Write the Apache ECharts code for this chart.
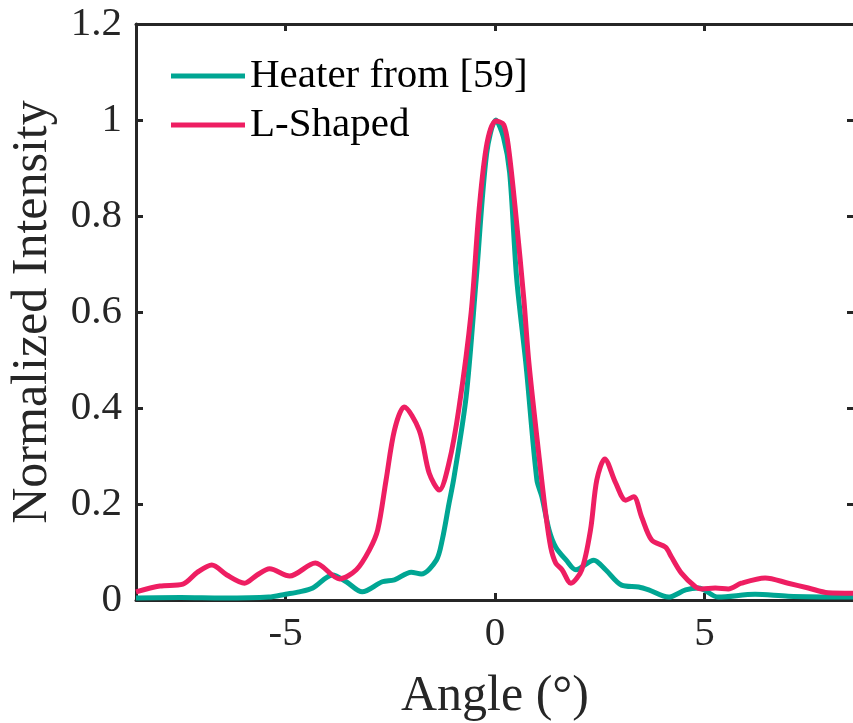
<!DOCTYPE html>
<html>
<head>
<meta charset="utf-8">
<script src="https://cdn.jsdelivr.net/npm/echarts@6/dist/echarts.min.js"></script>
<style>
html,body{margin:0;padding:0;background:#fff;}
#chart{width:853px;height:723px;}
</style>
</head>
<body>
<div id="chart"></div>
<script>
// Heater from [59]
const heaterAngle = [-8.57, -7.5, -6.5, -5.4, -5.0, -4.67, -4.35, -3.88, -3.55, -3.17, -2.69, -2.4, -2.0, -1.76, -1.4, -1.26, -1.1, -0.98, -0.69, -0.45, -0.2, 0.02, 0.2, 0.35, 0.52, 0.74, 1.0, 1.12, 1.29, 1.45, 1.7, 1.93, 2.36, 2.64, 3.02, 3.43, 3.67, 4.14, 4.55, 4.86, 5.33, 6.21, 7.0, 8.57];
const heaterValue = [0.004, 0.005, 0.004, 0.006, 0.012, 0.017, 0.025, 0.052, 0.038, 0.017, 0.038, 0.042, 0.058, 0.054, 0.083, 0.125, 0.2, 0.255, 0.423, 0.667, 0.93, 1.0, 0.965, 0.89, 0.667, 0.49, 0.25, 0.215, 0.146, 0.11, 0.083, 0.063, 0.083, 0.063, 0.031, 0.027, 0.021, 0.006, 0.021, 0.025, 0.006, 0.012, 0.008, 0.006];

// L-Shaped
const lshapeAngle = [-8.57, -8.0, -7.45, -7.1, -6.76, -6.4, -5.98, -5.68, -5.38, -4.9, -4.29, -3.71, -3.31, -3.0, -2.8, -2.6, -2.4, -2.17, -1.81, -1.57, -1.33, -1.1, -0.86, -0.57, -0.38, -0.19, 0.02, 0.21, 0.33, 0.5, 0.69, 0.81, 1.05, 1.21, 1.33, 1.45, 1.6, 1.81, 2.07, 2.28, 2.43, 2.62, 2.88, 3.12, 3.31, 3.5, 3.74, 4.07, 4.21, 4.45, 4.79, 4.93, 5.26, 5.57, 5.88, 6.45, 7.0, 7.48, 7.95, 8.57];
const lshapeValue = [0.017, 0.029, 0.033, 0.058, 0.073, 0.052, 0.035, 0.052, 0.065, 0.05, 0.077, 0.044, 0.063, 0.104, 0.146, 0.25, 0.354, 0.402, 0.354, 0.264, 0.229, 0.285, 0.40, 0.598, 0.8125, 0.952, 0.998, 0.99, 0.9375, 0.80, 0.625, 0.493, 0.30, 0.18, 0.11, 0.077, 0.063, 0.035, 0.063, 0.146, 0.25, 0.294, 0.244, 0.208, 0.215, 0.173, 0.125, 0.11, 0.09, 0.056, 0.027, 0.023, 0.025, 0.023, 0.035, 0.046, 0.035, 0.025, 0.015, 0.014];

const xTicks = [-5, 0, 5];
const seriesNames = ['Heater from [59]', 'L-Shaped'];

const axisColor = '#262626';
const font = 'Liberation Serif, Times New Roman, serif';

function pairs(xs, ys) { return xs.map((x, i) => [x, ys[i]]); }

const chart = echarts.init(document.getElementById('chart'), null, {renderer: 'canvas'});
const baseX = {
  type: 'value', min: -8.57, max: 8.57,
  splitLine: {show: false},
  axisLine: {show: true, onZero: false, lineStyle: {color: axisColor, width: 3}},
  axisTick: {show: true, inside: true, length: 7, customValues: xTicks, lineStyle: {color: axisColor, width: 3}},
};
const baseY = {
  type: 'value', min: 0, max: 1.2, interval: 0.2,
  splitLine: {show: false},
  axisLine: {show: true, onZero: false, lineStyle: {color: axisColor, width: 3}},
  axisTick: {show: true, inside: true, length: 7, lineStyle: {color: axisColor, width: 3}},
};
chart.setOption({
  animation: false,
  backgroundColor: '#fff',
  grid: {left: 136, top: 24, width: 718, height: 576, containLabel: false, outerBoundsMode: 'none'},
  legend: {
    data: seriesNames,
    orient: 'vertical', left: 166, top: 50,
    icon: 'rect', itemWidth: 74, itemHeight: 5, itemGap: 7,
    textStyle: {fontSize: 41, fontFamily: font, color: '#000', lineHeight: 42}
  },
  xAxis: [
    Object.assign({}, baseX, {
      position: 'bottom',
      axisLabel: {show: true, customValues: xTicks, fontSize: 41, fontFamily: font, color: axisColor, margin: 14},
      name: 'Angle (°)', nameLocation: 'middle', nameGap: 72,
      nameTextStyle: {fontSize: 50, fontFamily: font, color: axisColor}
    }),
    Object.assign({}, baseX, {position: 'top', axisLabel: {show: false}})
  ],
  yAxis: [
    Object.assign({}, baseY, {
      position: 'left',
      axisLabel: {show: true, fontSize: 41, fontFamily: font, color: axisColor, margin: 14},
      name: 'Normalized Intensity', nameLocation: 'middle', nameGap: 78,
      nameTextStyle: {fontSize: 50, fontFamily: font, color: axisColor}
    }),
    Object.assign({}, baseY, {position: 'right', axisLabel: {show: false}})
  ],
  series: [
    {
      name: seriesNames[0], type: 'line', xAxisIndex: 0, yAxisIndex: 0,
      data: pairs(heaterAngle, heaterValue),
      showSymbol: false, smooth: 0.3, clip: true,
      lineStyle: {color: '#00A693', width: 5}, itemStyle: {color: '#00A693'}
    },
    {
      name: seriesNames[1], type: 'line', xAxisIndex: 0, yAxisIndex: 0,
      data: pairs(lshapeAngle, lshapeValue),
      showSymbol: false, smooth: 0.3, clip: true,
      lineStyle: {color: '#EE1E62', width: 5}, itemStyle: {color: '#EE1E62'}
    }
  ]
});
</script>
</body>
</html>
